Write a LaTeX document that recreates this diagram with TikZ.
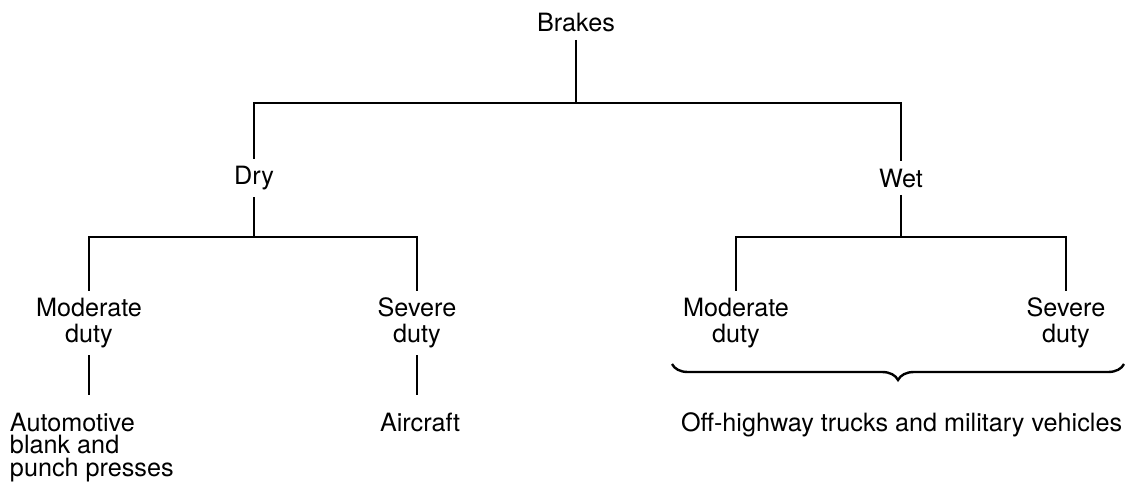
\documentclass[tikz,border=0pt]{standalone}
\usepackage{fontspec}
\setmainfont{TeX Gyre Heros}
\usetikzlibrary{decorations.pathreplacing}
\tikzset{
  lbl/.style={font=\fontsize{12.6}{12.8}\selectfont, align=center,
              inner xsep=0pt, inner ysep=3.5pt},
  leaf/.style={font=\fontsize{12.6}{11.2}\selectfont, align=left, anchor=north west,
               inner sep=0pt, outer xsep=0pt, outer ysep=9pt},
  twig/.style={draw=black, line width=1.4pt},
  bracket/.style={draw=black, line width=1.2pt, decorate,
                  decoration={brace, amplitude=8pt}},
}

\begin{document}
\begin{tikzpicture}[x=0.5pt, y=-0.5pt]
  \useasboundingbox (0,0) rectangle (1127,487);

  % top level
  \node[lbl] (brakes) at (576,23) {Brakes};
  \node[lbl] (dry) at (254,178) {Dry};
  \node[lbl] (wet) at (901,178) {Wet};

  % duty level
  \node[lbl] (dmod) at (89,323) {Moderate\\duty};
  \node[lbl] (dsev) at (417,323) {Severe\\duty};
  \node[lbl] (wmod) at (736,323) {Moderate\\duty};
  \node[lbl] (wsev) at (1066,323) {Severe\\duty};

  % applications
  \node[leaf] (presses) at (10,395) {Automotive\\blank and\\punch presses};
  \node[leaf] (aircraft) at (380,395) {Aircraft};
  \node[leaf] (offroad) at (681,395) {Off-highway trucks and military vehicles};

  \coordinate (topjoin) at (576,103);
  \coordinate (dryjoin) at (254,237);
  \coordinate (wetjoin) at (901,237);
  \coordinate (braceR) at (1124,364);
  \coordinate (braceL) at (672,364);

  \draw[twig] (brakes) -- (topjoin);
  \draw[twig] (dry) |- (topjoin) -| (wet);
  \draw[twig] (dry) -- (dryjoin);
  \draw[twig] (dmod) |- (dryjoin) -| (dsev);
  \draw[twig] (wet) -- (wetjoin);
  \draw[twig] (wmod) |- (wetjoin) -| (wsev);
  \draw[twig] (dmod) -- (dmod |- presses.north);
  \draw[twig] (dsev) -- (dsev |- aircraft.north);
  \draw[bracket] (braceR) -- (braceL);
\end{tikzpicture}
\end{document}
